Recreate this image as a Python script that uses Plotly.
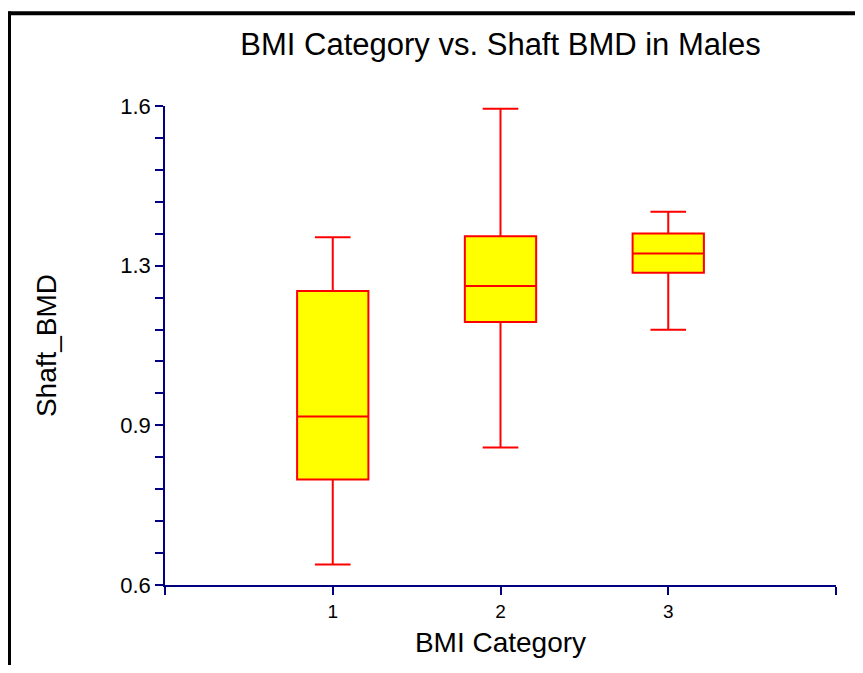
import plotly.graph_objects as go

categories = [1, 2, 3]
lower_whisker = [0.643, 0.887, 1.133]
q1_values = [0.820, 1.149, 1.252]
median_values = [0.952, 1.224, 1.292]
q3_values = [1.214, 1.328, 1.334]
upper_whisker = [1.326, 1.594, 1.379]

y_tickvals = [0.6, 0.6 + 1/3, 0.6 + 2/3, 1.6]
y_ticktext = ["0.6", "0.9", "1.3", "1.6"]
x_tickvals = [0, 1, 2, 3, 4]
x_ticktext = ["", "1", "2", "3", ""]

NAVY = "#000080"
FONT = "Liberation Sans, Arial, sans-serif"

fig = go.Figure()
fig.add_trace(go.Box(
    x=categories,
    q1=q1_values,
    median=median_values,
    q3=q3_values,
    lowerfence=lower_whisker,
    upperfence=upper_whisker,
    boxpoints=False,
    width=0.425,
    whiskerwidth=0.5,
    fillcolor="#FFFF00",
    line=dict(color="#FF0000", width=2),
    showlegend=False,
    hoverinfo="skip",
))

# page body has an 8px margin; figure is sized to fit the window inside it
OFF = 8
W, H = 863 - 2 * OFF, 673 - 2 * OFF
L = 165 - OFF
T = 106 - OFF
R = W - (836 - OFF)
B = H - (592 - OFF)
pw, ph = W - L - R, H - T - B

def px2paper_x(px):
    return (px - OFF - L) / pw

def px2paper_y(py):
    return (H - B - (py - OFF)) / ph

minor_vals = [0.6 + k / 15 for k in range(16) if k % 5 != 0]

fig.update_layout(
    width=W, height=H,
    margin=dict(l=L, r=R, t=T, b=B, pad=0),
    paper_bgcolor="white", plot_bgcolor="white",
    font=dict(family=FONT, color="black"),
    title=dict(text="BMI Category vs. Shaft BMD in Males", x=px2paper_x(500.5), xref="paper",
               xanchor="center", y=1 - (44 - OFF) / H, yref="container", yanchor="middle",
               font=dict(size=31, family=FONT, color="black")),
    xaxis=dict(range=[0, 4], tickmode="array", tickvals=x_tickvals, ticktext=x_ticktext,
               ticks="outside", ticklen=8, tickwidth=1.5, tickcolor=NAVY,
               showline=True, linecolor=NAVY, linewidth=1.5, showgrid=False, zeroline=False,
               tickfont=dict(size=19, family=FONT, color="black"),
               title=dict(text="BMI Category", font=dict(size=28, family=FONT, color="black"), standoff=12)),
    yaxis=dict(range=[0.6, 1.6], tickmode="array", tickvals=y_tickvals, ticktext=y_ticktext,
               ticks="outside", ticklen=8, tickwidth=1.5, tickcolor=NAVY,
               showline=True, linecolor=NAVY, linewidth=1.5, showgrid=False, zeroline=False,
               tickfont=dict(size=22, family=FONT, color="black"),
               minor=dict(tickmode="array", tickvals=minor_vals, ticks="outside", ticklen=8,
                          tickwidth=1.5, tickcolor=NAVY, showgrid=False),
               title=dict(text="Shaft_BMD", font=dict(size=28, family=FONT, color="black"), standoff=55)),
    shapes=[
        dict(type="line", xref="paper", yref="paper",
             x0=px2paper_x(9), x1=px2paper_x(9), y0=px2paper_y(10), y1=px2paper_y(680),
             line=dict(color="black", width=4)),
        dict(type="line", xref="paper", yref="paper",
             x0=px2paper_x(7), x1=px2paper_x(870), y0=px2paper_y(12), y1=px2paper_y(12),
             line=dict(color="black", width=4)),
    ],
)

fig.write_html("out.html")
